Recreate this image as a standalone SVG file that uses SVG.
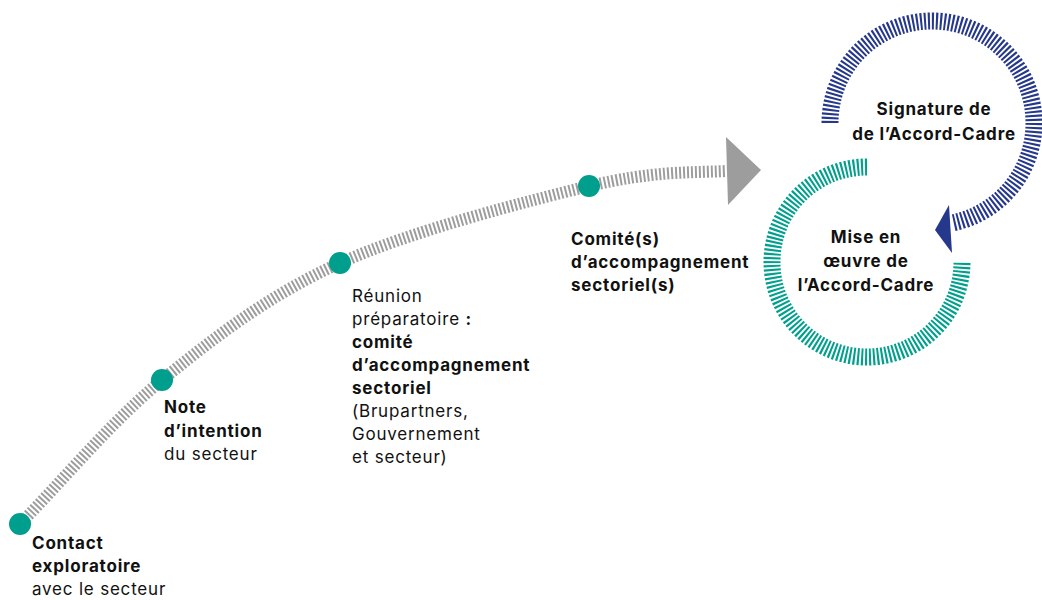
<svg xmlns="http://www.w3.org/2000/svg" width="1042" height="600" viewBox="0 0 1042 600">
  <style>
    text { font-family: Inter, "Liberation Sans", sans-serif; font-size: 17px; fill: #111; letter-spacing: 0.8px; }
    .b { font-weight: 700; }
    .c { text-anchor: middle; }
    .dot { fill: #009e8c; }
    .track { fill: none; stroke: #9d9d9d; stroke-width: 12; stroke-dasharray: 2 2; }
    .ring-blue { fill: none; stroke: #25388c; stroke-width: 17; stroke-dasharray: 2.1 1.9; }
    .ring-teal { fill: none; stroke: #00a08c; stroke-width: 17; stroke-dasharray: 2.1 1.9; }
  </style>

  <!-- connectors: dashed timeline track and the two circular cycle arrows -->
  <g id="connectors">
    <path class="track" d="M20,524 C67,476 109,424 162,380 C215,337 269,295 340,263 C411,231 524,202 589,186 C654,171 682,173 727,171"/>
    <polygon points="726,137 761,170 728,205" fill="#9d9d9d"/>
    <path class="ring-blue" d="M830,123 A102,102 0 1 1 952,223"/>
    <polygon points="935,230 949,205 952,253" fill="#25388c"/>
    <path class="ring-teal" d="M867,167 A95,95 0 1 0 962,262"/>
  </g>

  <g id="contact">
    <circle class="dot" cx="20" cy="524" r="11"/>
    <text x="32" y="548.5"><tspan class="b">Contact</tspan><tspan class="b" x="32" dy="23.3">exploratoire</tspan><tspan x="32" dy="23.3">avec le secteur</tspan></text>
  </g>

  <g id="note">
    <circle class="dot" cx="162" cy="380" r="11"/>
    <text x="164" y="413.3"><tspan class="b">Note</tspan><tspan class="b" x="164" dy="23.3">d’intention</tspan><tspan x="164" dy="23.3">du secteur</tspan></text>
  </g>

  <g id="reunion">
    <circle class="dot" cx="340" cy="263" r="11"/>
    <text x="352" y="301.7"><tspan>Réunion</tspan><tspan x="352" dy="23">préparatoire <tspan class="b">:</tspan></tspan><tspan class="b" x="352" dy="23">comité</tspan><tspan class="b" x="352" dy="23">d’accompagnement</tspan><tspan class="b" x="352" dy="23">sectoriel</tspan><tspan x="352" dy="23">(Brupartners,</tspan><tspan x="352" dy="23">Gouvernement</tspan><tspan x="352" dy="23">et secteur)</tspan></text>
  </g>

  <g id="comite">
    <circle class="dot" cx="589" cy="186" r="11"/>
    <text class="b" x="571" y="245"><tspan>Comité(s)</tspan><tspan x="571" dy="23">d’accompagnement</tspan><tspan x="571" dy="23">sectoriel(s)</tspan></text>
  </g>

  <g id="signature">
    <text class="b c" x="934" y="115"><tspan>Signature de</tspan><tspan x="934" dy="25">de l’Accord-Cadre</tspan></text>
  </g>

  <g id="mise-en-oeuvre">
    <text class="b c" x="866" y="243"><tspan>Mise en</tspan><tspan x="866" dy="24">œuvre de</tspan><tspan x="866" dy="24">l’Accord-Cadre</tspan></text>
  </g>
</svg>
